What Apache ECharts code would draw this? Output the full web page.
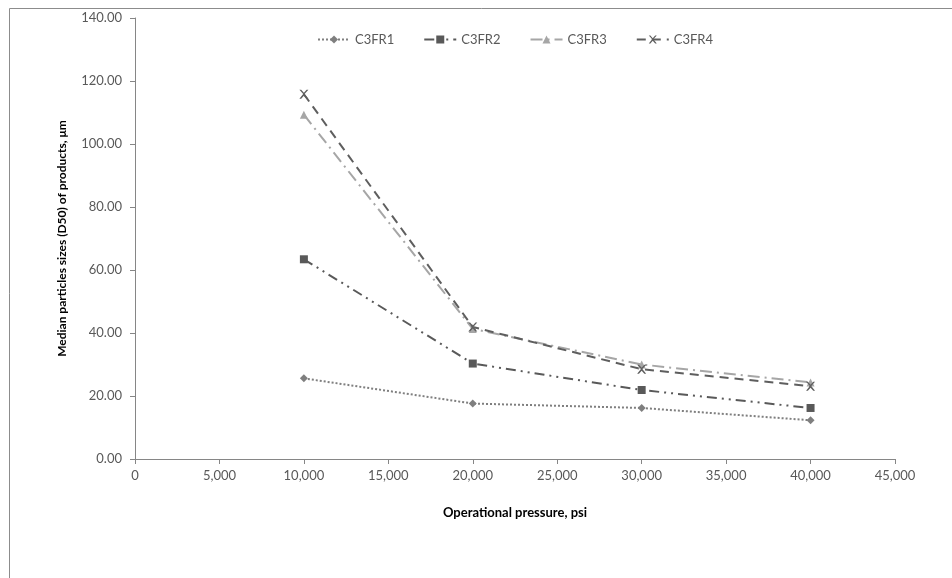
<!DOCTYPE html>
<html>
<head>
<meta charset="utf-8">
<script src="https://cdn.jsdelivr.net/npm/echarts@6/dist/echarts.min.js"></script>
<style>
html,body{margin:0;padding:0;background:#fff;}
#chart{width:952px;height:578px;}
</style>
</head>
<body>
<div id="chart"></div>
<script>
var pressures = [10000, 20000, 30000, 40000];
var seriesNames = ['C3FR1', 'C3FR2', 'C3FR3', 'C3FR4'];
var c3fr1 = [25.6, 17.6, 16.2, 12.3];
var c3fr2 = [63.4, 30.3, 21.9, 16.2];
var c3fr3 = [109.3, 41.3, 30.0, 24.3];
var c3fr4 = [115.8, 41.9, 28.5, 23.1];
var yTicks = {min: 0, max: 140, interval: 20};
var xTicks = {min: 0, max: 45000, interval: 5000};

var values = [c3fr1, c3fr2, c3fr3, c3fr4];
var colors = ['#7f7f7f', '#595959', '#a6a6a6', '#5e5e5e'];
var dashes = [[2, 2], [10, 5, 2, 5, 2, 5], [12, 5, 2, 5], [9, 6]];
var crossPath = 'path://M0,0 L2,0 L5,3 L8,0 L10,0 L6,4 L6,4.5 L10,9 L8,9 L5,6 L2,9 L0,9 L4,4.5 L4,4 Z';
var symbols = ['diamond', 'rect', 'triangle', crossPath];
var symSizes = [8, 8, 8, 9];

var font = 'Lato, "Open Sans", sans-serif';
var series = seriesNames.map(function (name, i) {
  return {
    name: name,
    type: 'line',
    data: pressures.map(function (p, j) { return [p, values[i][j]]; }),
    symbol: symbols[i],
    symbolSize: symSizes[i],
    showAllSymbol: true,
    itemStyle: {color: colors[i]},
    lineStyle: {color: colors[i], width: 2, type: dashes[i]},
    emphasis: {disabled: true},
    animation: false
  };
});

var chart = echarts.init(document.getElementById('chart'), null, {renderer: 'canvas'});
chart.setOption({
  backgroundColor: '#ffffff',
  animation: false,
  graphic: [{
    type: 'rect',
    shape: {x: 9.5, y: 8.5, width: 1000, height: 700},
    style: {fill: 'none', stroke: '#8c8c8c', lineWidth: 1},
    silent: true
  }],
  legend: {
    top: 28,
    left: 312,
    itemWidth: 32,
    itemHeight: 10,
    itemGap: 29,
    textStyle: {fontFamily: font, fontSize: 13, color: '#595959'},
    data: seriesNames
  },
  grid: {left: 135, right: 57, top: 18, bottom: 119, containLabel: false},
  xAxis: {
    type: 'value',
    min: xTicks.min, max: xTicks.max, interval: xTicks.interval,
    name: 'Operational pressure, psi',
    nameLocation: 'middle',
    nameGap: 47,
    nameTextStyle: {fontFamily: font, fontSize: 13, fontWeight: 'bold', color: '#000'},
    axisLine: {show: true, lineStyle: {color: '#868686', width: 1}},
    axisTick: {show: true, length: 5, lineStyle: {color: '#868686'}},
    axisLabel: {
      fontFamily: font, fontSize: 13, color: '#595959', margin: 10,
      formatter: function (v) { return v.toLocaleString('en-US'); }
    },
    splitLine: {show: false}
  },
  yAxis: {
    type: 'value',
    min: yTicks.min, max: yTicks.max, interval: yTicks.interval,
    name: 'Median particles sizes (D50) of products, \u03bcm',
    nameLocation: 'middle',
    nameGap: 67,
    nameTextStyle: {fontFamily: font, fontSize: 12, fontWeight: 'bold', color: '#000'},
    axisLine: {show: true, lineStyle: {color: '#868686', width: 1}},
    axisTick: {show: true, length: 5, lineStyle: {color: '#868686'}},
    axisLabel: {
      fontFamily: font, fontSize: 13, color: '#595959', margin: 13,
      formatter: function (v) { return v.toFixed(2); }
    },
    splitLine: {show: false}
  },
  series: series
});
</script>
</body>
</html>
